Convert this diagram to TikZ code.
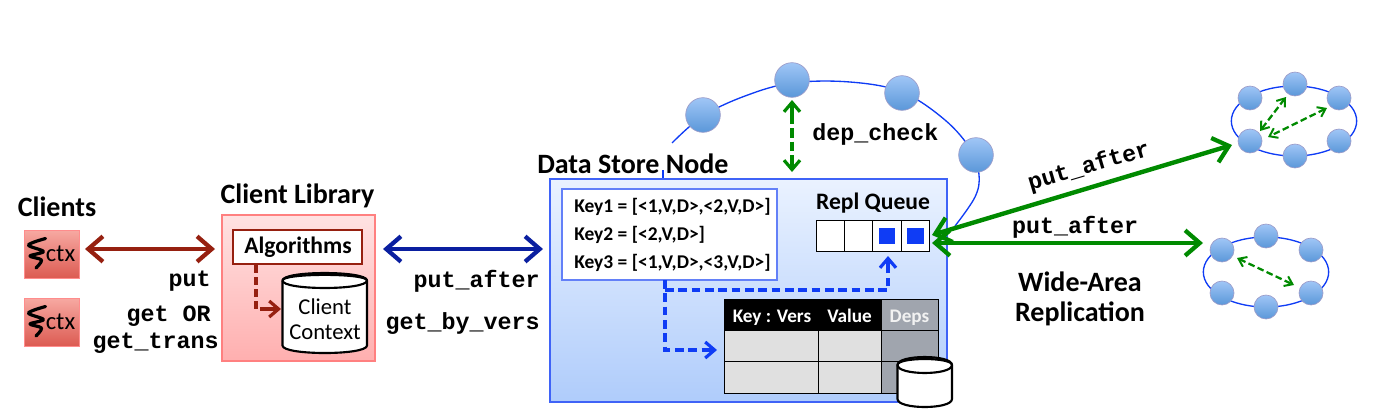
\documentclass[tikz,border=0pt]{standalone}
\usepackage{fontspec}
\setmainfont{Carlito}
\newfontfamily\codefont{Liberation Mono}[BoldFont={Liberation Mono Bold}]
\usetikzlibrary{arrows.meta,shapes.geometric,calc}
\definecolor{dred}{HTML}{962010}
\definecolor{dgreen}{HTML}{008A00}
\definecolor{nblue}{HTML}{0A1FA0}
\definecolor{bblue}{HTML}{0F3CF5}
\definecolor{nodetop}{HTML}{A0C6F6}
\definecolor{nodebot}{HTML}{5A97D9}
\definecolor{tgray}{HTML}{E0E0E0}
\definecolor{dgray}{HTML}{A0A5AE}
\tikzset{
  x=0.75pt,y=-0.75pt,
  lbl/.style={font=\fontsize{21}{23}\selectfont\bfseries,inner sep=0pt,text=black},
  sml/.style={font=\fontsize{14.6}{16}\selectfont\bfseries,inner sep=0pt},
  hdr/.style={font=\fontsize{14.4}{16}\selectfont\bfseries,inner sep=0pt,anchor=base},
  code/.style={font=\fontsize{17.5}{19}\selectfont\codefont\bfseries,inner sep=0pt},
  clientbox/.style={rectangle,minimum width=41.25pt,minimum height=36pt,inner sep=0pt,draw=red!45!white,top color=clienttop,bottom color=clientbot,line width=.6pt},
  rnode/.style={circle,minimum size=#1,inner sep=0pt,draw=blue!30!gray!60,line width=.5pt,top color=nodetop,bottom color=nodebot},
  ring/.style={draw=bblue,line width=1pt},
  bothbig/.style={line width=3.3pt,{Straight Barb[length=11pt,width=19pt,line width=3.2pt]}-{Straight Barb[length=11pt,width=19pt,line width=3.2pt]}},
  dashthick/.style={line width=2.6pt,dash pattern=on 6.5pt off 3.5pt},
  dashthin/.style={line width=1.7pt,dash pattern=on 5pt off 2.5pt,{Straight Barb[length=5.5pt,width=8pt,line width=1.5pt]}-{Straight Barb[length=5.5pt,width=8pt,line width=1.5pt]}},
  dashtip/.style={-{Straight Barb[length=7pt,width=12pt,line width=2.4pt]}},
  cell/.style={draw=black,line width=.7pt},
  cylline/.style={draw=black,line width=1.6pt,line join=round},
}
\definecolor{clienttop}{HTML}{F7A9A2}
\definecolor{clientbot}{HTML}{DC5B52}
\definecolor{libtop}{HTML}{FFE2E2}
\definecolor{libbot}{HTML}{FFAFAF}
\definecolor{storetop}{HTML}{EAF2FF}
\definecolor{storebot}{HTML}{AFCCFB}
% x1, x2, y-top, y-bottom, ry
\newcommand{\cyl}[5]{%
  \path[cylline,fill=white] (#1,#3+#5) .. controls (#1,#3) and (#2,#3) .. (#2,#3+#5)
     -- (#2,#4-#5) .. controls (#2,#4+#5/3) and (#1,#4+#5/3) .. (#1,#4-#5) -- cycle;
  \path[cylline] (#1,#3+#5) .. controls (#1,#3+#5+#5*1.33) and (#2,#3+#5+#5*1.33) .. (#2,#3+#5);
  \path[cylline] (#1,#3+#5) .. controls (#1,#3-#5*.33) and (#2,#3-#5*.33) .. (#2,#3+#5);}
\newcommand{\squig}[2]{%
  \draw[line width=2.4pt,line cap=round,line join=round,black] plot[smooth,tension=.55] coordinates {(#1+21.5,#2+8.5) (#1+4.5,#2+15) (#1+19.5,#2+21.5) (#1+6,#2+26) (#1+17.5,#2+30) (#1+12,#2+38)};}
\begin{document}
\begin{tikzpicture}
\useasboundingbox (0,0) rectangle (1377,415);
% big ring
\draw[ring] plot[smooth,tension=.6] coordinates {(672,143) (703,116) (745,96) (792,83) (850,82) (902,92) (945,120) (971,150) (979,175) (975,197) (955,226)};
\draw[ring] (663,170) -- (663,179);
% data store
\node[rectangle,draw=bblue!80!white,line width=.9pt,top color=storetop,bottom color=storebot,minimum width=297.75pt,minimum height=167.25pt,inner sep=0pt] (store) at (748.5,290.5) {};
\node[lbl,anchor=west] (storelbl) at (537,164) {Data Store Node};
\foreach \n/\x/\y in {r1/703/115,r2/792/80,r3/902/93,r4/976/155}
  \node[rnode=26pt] (\n) at (\x,\y) {};
% key box
\node[rectangle,draw=bblue!65!white,fill=white,line width=.9pt,minimum width=161.25pt,minimum height=68.25pt,inner sep=0pt] (keys) at (669.5,234.5) {};
\node[sml,anchor=west] (k1) at (574,207) {Key1 = [<1,V,D>,<2,V,D>]};
\node[sml,anchor=west] (k2) at (574,235) {Key2 = [<2,V,D>]};
\node[sml,anchor=west] (k3) at (574,263) {Key3 = [<1,V,D>,<3,V,D>]};
% queue
\node[lbl,font=\fontsize{17.7}{19}\selectfont\bfseries] (ql) at (873,203) {Repl Queue};
\foreach \n/\x in {q1/830.2,q2/858.6,q3/887,q4/915.4}
  \node[rectangle,cell,fill=white,minimum width=21.3pt,minimum height=23.25pt,inner sep=0pt] (\n) at (\x,235.5) {};
\node[rectangle,fill=bblue,minimum size=12.5pt,inner sep=0pt] (s3) at (887,236) {};
\node[rectangle,fill=bblue,minimum size=12.5pt,inner sep=0pt] (s4) at (915.4,236) {};
% table
\foreach \xa/\xb/\ya/\yb/\fc in {
 724/818/299/330/black,818/881/299/330/black,881/938/299/330/dgray,
 724/818/330/361/tgray,818/881/330/361/tgray,881/938/330/361/dgray,
 724/818/361/393/tgray,818/881/361/393/tgray,881/938/361/393/dgray}
  \draw[cell,fill=\fc] (\xa,\ya) rectangle (\xb,\yb);
\node[hdr,text=white] (h1) at (772,322) {Key : Vers};
\node[hdr,text=white] (h2) at (849.5,322) {Value};
\node[hdr,text=white!90!gray] (h3) at (909.5,322) {Deps};
% store cylinder
\cyl{897.5}{952}{357}{407}{8}
\coordinate (dbs) at (924.5,381.5);
% dashed blue
\coordinate (bd) at (665,280);
\coordinate (bt) at (717,350);
\coordinate (bq) at (888,256);
\draw[bblue,dashthick] (bd) -- (665,350) -- (708,350);
\draw[bblue,line width=2.6pt,dashtip] (702,350) -- (bt);
\draw[bblue,dashthick] (665,290) -- (888,290) -- (888,268);
\draw[bblue,line width=2.6pt,dashtip] (888,270) -- (bq);
% clients
\node[lbl] (cl) at (57,207) {Clients};
\node[clientbox] (c1) at (51.5,254) {};
\node[clientbox] (c2) at (51.5,322) {};
\squig{24}{230}
\squig{24}{298}
\node[font=\fontsize{18.5}{20}\selectfont,inner sep=0pt] (ct1) at (60.5,254) {ctx};
\node[font=\fontsize{18.5}{20}\selectfont,inner sep=0pt] (ct2) at (60.5,322) {ctx};
% client library
\node[lbl] (cll) at (297.5,196) {Client Library};
\node[rectangle,draw=red!50!white,line width=.9pt,top color=libtop,bottom color=libbot,minimum width=114.75pt,minimum height=109.5pt,inner sep=0pt] (lib) at (298.5,288) {};
\node[rectangle,draw=dred,fill=white,line width=1.5pt,minimum width=96.75pt,minimum height=25.5pt,inner sep=0pt] (alg) at (297.5,246.5) {};
\node[inner sep=0pt,font=\fontsize{17.7}{19}\selectfont\bfseries] (algt) at (298,247) {Algorithms};
\cyl{282.5}{367}{273}{353}{7.5}
\node[inner sep=0pt,font=\fontsize{17}{19}\selectfont] (ct3) at (325,307) {Client};
\node[inner sep=0pt,font=\fontsize{17}{19}\selectfont] (ct4) at (325,332) {Context};
\coordinate (rs) at (256,265);
\coordinate (re) at (281,309);
\draw[dred,line width=2.6pt,dash pattern=on 6pt off 3pt] (rs) |- (272,309);
\draw[dred,line width=2.6pt,dashtip] (267,309) -- (re);
% main arrows
\coordinate (ca) at (85,249);
\coordinate (cb) at (215,249);
\draw[dred,bothbig] (ca) -- (cb);
\coordinate (da) at (383,249);
\coordinate (db) at (543,249);
\draw[nblue,bothbig] (da) -- (db);
\node[code,anchor=east] (t1) at (211,281) {put};
\node[code,anchor=east] (t2) at (211,316) {get OR};
\node[code,anchor=east] (t3) at (219,343) {get\_trans};
\node[code,anchor=east] (t4) at (540,281) {put\_after};
\node[code,anchor=east] (t5) at (540,324) {get\_by\_vers};
% dep check
\coordinate (dt) at (792,100);
\coordinate (dm) at (792,172);
\draw[dgreen,line width=3.3pt,dash pattern=on 7pt off 3pt] (792,115) -- (792,157);
\draw[dgreen,line width=3.3pt,dashtip] (792,115) -- (dt);
\draw[dgreen,line width=3.3pt,dashtip] (792,157) -- (dm);
\node[code,anchor=west] (t6) at (812,134) {dep\_check};
% small rings
\node[ellipse,ring,minimum width=94pt,minimum height=52.5pt,inner sep=0pt] (e1) at (1294,121) {};
\foreach \n/\x/\y in {a/1250/98,b/1295/84,c/1339/98,d/1250/141,e/1295/156,f/1339/141}
  \node[rnode=18pt] (s\n) at (\x,\y) {};
\node[ellipse,ring,minimum width=94pt,minimum height=52.5pt,inner sep=0pt] (e2) at (1266,272) {};
\foreach \n/\x/\y in {a/1222/250,b/1266/236,c/1311/250,d/1222/293,e/1266/307,f/1311/293}
  \node[rnode=18pt] (u\n) at (\x,\y) {};
\coordinate (g1) at (1286,97); \coordinate (g2) at (1260,131);
\coordinate (g3) at (1327,108); \coordinate (g4) at (1268,137);
\coordinate (g5) at (1237,258); \coordinate (g6) at (1294,285);
\draw[dgreen,dashthin] (g1) -- (g2);
\draw[dgreen,dashthin] (g3) -- (g4);
\draw[dgreen,dashthin] (g5) -- (g6);
% wide-area arrows
\coordinate (wa) at (932,235);
\coordinate (wb) at (1232,145);
\coordinate (wc) at (932,243);
\coordinate (wd) at (1203,243);
\draw[dgreen,bothbig] (wa) -- (wb);
\draw[dgreen,bothbig] (wc) -- (wd);
\node[code,rotate=16.5] (t7) at (1089,167) {put\_after};
\node[code] (t8) at (1075,227) {put\_after};
\node[lbl] (w1) at (1080,282) {Wide-Area};
\node[lbl] (w2) at (1080,314) {Replication};
\end{tikzpicture}
\end{document}
